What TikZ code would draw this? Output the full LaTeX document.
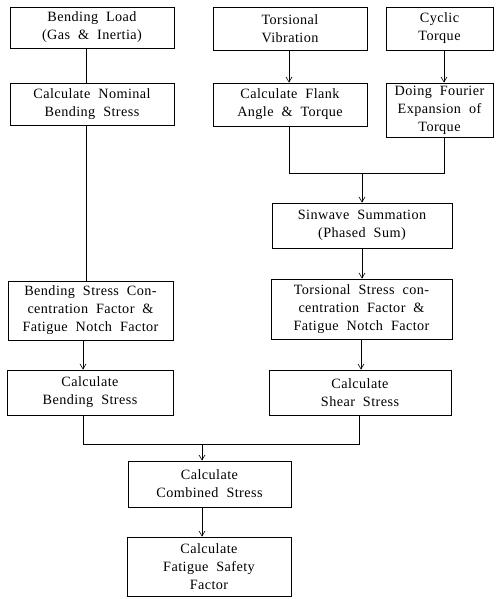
\documentclass[tikz,border=0pt]{standalone}
\usepackage{fontspec}
\setmainfont[LetterSpace=3,WordSpace=2.0]{Liberation Serif}
\usetikzlibrary{arrows.meta}
\begin{document}
\begin{tikzpicture}[x=1pt,y=-1pt,
  box/.style={draw,line width=0.9pt,inner sep=0pt,align=center,
    font=\fontsize{14.2}{18}\selectfont,minimum width=#1},
  conn/.style={line width=0.6pt},
  arr/.style={conn,-{Straight Barb[length=5pt,width=6pt,line width=0.6pt]}}]
\useasboundingbox (0,0) rectangle (501,599);
% left column
\node[box=164,minimum height=41] (b1) at (92,27.5) {Bending Load\\(Gas \& Inertia)};
\node[box=164,minimum height=42] (b2) at (92,104) {Calculate Nominal\\Bending Stress};
\node[box=165,minimum height=59] (b3) at (90.5,310.5) {Bending Stress Con-\\centration Factor \&\\Fatigue Notch Factor};
\node[box=166,minimum height=45] (b4) at (90,392.5) {Calculate\\Bending Stress};
% right column
\node[box=154,minimum height=43] (b5) at (290,28.5) {Torsional\\Vibration};
\node[box=107,minimum height=43] (bc) at (439.5,28.5) {Cyclic\\Torque};
\node[box=154,minimum height=43] (b6) at (290,104.5) {Calculate Flank\\Angle \& Torque};
\node[box=107,minimum height=54] (b7) at (439.5,110) {Doing Fourier\\Expansion of\\Torque};
\node[box=180,minimum height=45] (b8) at (362,225.5) {Sinwave Summation\\(Phased Sum)};
\node[box=181,minimum height=60] (b9) at (361.5,309) {Torsional Stress con-\\centration Factor \&\\Fatigue Notch Factor};
\node[box=182,minimum height=45] (b10) at (360,392.5) {Calculate\\Shear Stress};
% bottom
\node[box=163,minimum height=46] (b11) at (209.5,484) {Calculate\\Combined Stress};
\node[box=164,minimum height=59] (b12) at (209,566.5) {Calculate\\Fatigue Safety\\Factor};
% merge coordinates
\coordinate (m1) at (362,173);
\coordinate (m2) at (202,444);
% connectors
\draw[conn] (b1.south -| 86,0) -- (b2.north -| 86,0);
\draw[conn] (b2.south -| 86,0) -- (b3.north -| 86,0);
\draw[arr] (b3.south -| 83,0) -- (b4.north -| 83,0);
\draw[arr] (b5.south -| 289,0) -- (b6.north -| 289,0);
\draw[arr] (bc.south -| 444,0) -- (b7.north -| 444,0);
\draw[conn] (b6.south -| 289,0) |- (m1);
\draw[conn] (b7.south -| 444,0) |- (m1);
\draw[arr] (m1) -- (b8.north -| m1);
\draw[arr] (b8.south -| m1) -- (b9.north -| m1);
\draw[arr] (b9.south -| 361,0) -- (b10.north -| 361,0);
\draw[conn] (b4.south -| 83,0) |- (m2);
\draw[conn] (b10.south -| 359,0) |- (m2);
\draw[arr] (m2) -- (b11.north -| m2);
\draw[arr] (b11.south -| m2) -- (b12.north -| m2);
\end{tikzpicture}
\end{document}
